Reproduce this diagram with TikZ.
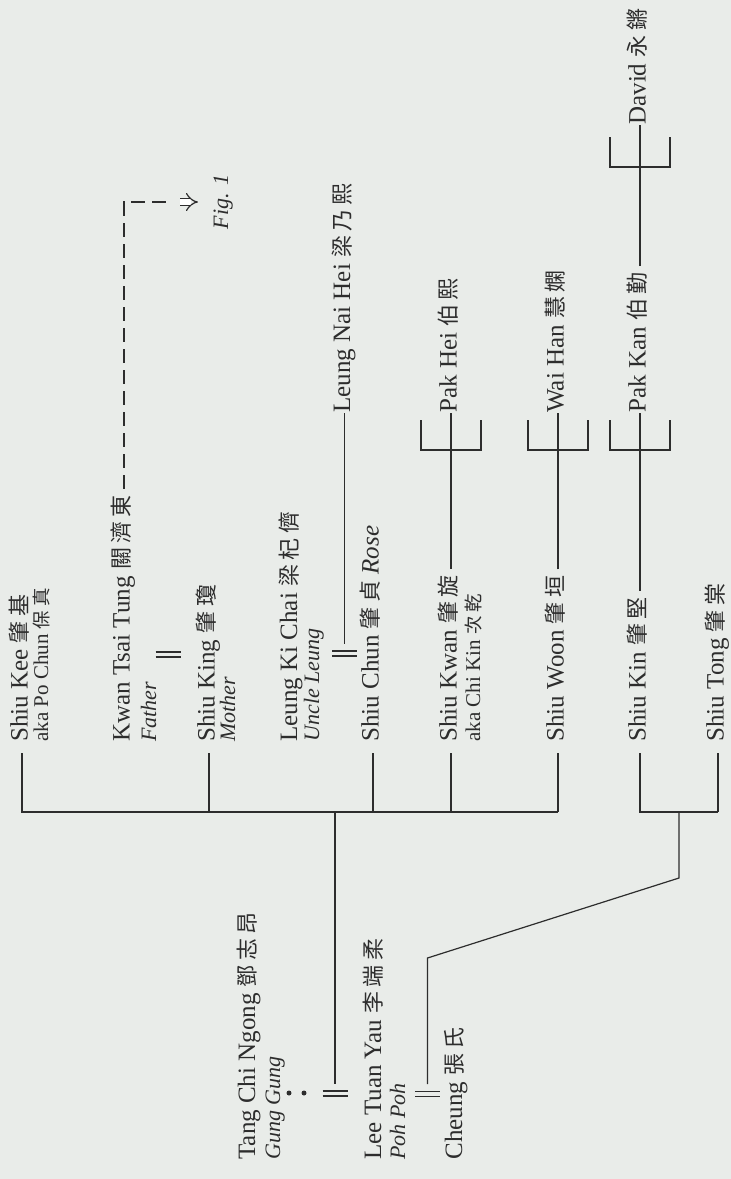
\documentclass[tikz,border=0pt]{standalone}
\usepackage{fontspec}
\setmainfont{Liberation Serif}
\newfontfamily\cjk[Scale=0.88, LetterSpace=20]{Noto Sans CJK TC}
\usepackage{tikz}
\usetikzlibrary{arrows.meta}
\definecolor{paper}{RGB}{233,236,233}
\definecolor{ink}{RGB}{45,45,45}
\newcommand{\zh}[1]{{\cjk #1}}

\tikzset{
  person/.style={rotate=90, anchor=west, inner sep=0pt, text height=9pt, text depth=3.5pt,
    text=ink, font=\fontsize{12.5}{14}\selectfont},
  aka/.style={rotate=90, anchor=base west, inner sep=0pt, text=ink, font=\fontsize{10.5}{12}\selectfont},
  role/.style={aka, font=\fontsize{11}{12}\selectfont\itshape},
  famline/.style={draw=ink, line width=0.6pt},
  drop/.style={famline, shorten <=5.5pt},
  child/.style={famline, shorten <=3pt},
  wed/.pic={\draw[famline] (-12.5,-2.5) -- (12.5,-2.5) (-12.5,2.5) -- (12.5,2.5);},
  fork/.pic={\draw[famline] (-30,-30) -- (-30,0) -- (30,0) -- (30,-30);},
}

\begin{document}
\begin{tikzpicture}[x=0.5pt, y=-0.5pt]
  \fill[paper] (0,0) rectangle (731,1179);
  \useasboundingbox (0,0) rectangle (731,1179);

  % Parents
  \node[person, anchor=base west] (tang) at (255,1160) {Tang Chi Ngong \zh{鄧志昂}};
  \node[role] (gung) at (280,1160) {Gung Gung};
  \fill[ink] (289,1093) circle (2.5) (304,1093) circle (2.5);
  \coordinate (tangwed) at (335,1093.5);
  \pic at (tangwed) {wed};
  \node[person, anchor=base west] (lee) at (381,1160) {Lee Tuan Yau \zh{李端柔}};
  \node[role] (poh) at (405,1160) {Poh Poh};
  \coordinate (cheungwed) at (427.5,1094);
  \pic at (cheungwed) {wed};
  \node[person, anchor=base west] (cheung) at (462,1160) {Cheung \zh{張氏}};

  % Children
  \node[person] (kee) at (22,742) {Shiu Kee \zh{肇基}};
  \node[aka] (keeaka) at (48,742) {aka Po Chun \zh{保真}};
  \node[person] (father) at (124,742) {Kwan Tsai Tung \zh{關濟東}};
  \node[role] (fathertag) at (156,742) {Father};
  \coordinate (kingwed) at (168,654.5);
  \pic at (kingwed) {wed};
  \node[person] (king) at (209,742) {Shiu King \zh{肇瓊}};
  \node[role] (mothertag) at (235,742) {Mother};
  \node[person, anchor=base west] (kichai) at (297,742) {Leung Ki Chai \zh{梁杞儕}};
  \node[role] (uncletag) at (319,742) {Uncle Leung};
  \coordinate (chunwed) at (344.5,653.5);
  \pic at (chunwed) {wed};
  \node[person] (chun) at (373,742) {Shiu Chun \zh{肇貞} \textit{Rose}};
  \node[person] (kwan) at (451,742) {Shiu Kwan \zh{肇旋}};
  \node[aka] (kwanaka) at (480,742) {aka Chi Kin \zh{次乾}};
  \node[person] (woon) at (558,742) {Shiu Woon \zh{肇垣}};
  \node[person] (kin) at (640,742) {Shiu Kin \zh{肇堅}};
  \node[person] (tong) at (718,742) {Shiu Tong \zh{肇棠}};

  % Grandchildren
  \node[person] (naihei) at (344.5,413) {Leung Nai Hei \zh{梁乃熙}};
  \node[person] (pakhei) at (451,413) {Pak Hei \zh{伯熙}};
  \node[person] (waihan) at (558,413) {Wai Han \zh{慧嫻}};
  \node[person] (pakkan) at (640,413) {Pak Kan \zh{伯勤}};
  \node[person] (david) at (640,125) {David \zh{永鏘}};
  \node[role, anchor=base] (fig) at (228,202) {Fig. 1};

  % Sibling bars
  \coordinate (sibbar) at (0,812);
  \draw[drop] (kee.west) -- (kee.west |- sibbar) -- (woon.west |- sibbar);
  \draw[drop] (woon.west) -- (woon.west |- sibbar);
  \draw[drop] (king.west) -- (king.west |- sibbar);
  \draw[drop] (chun.west) -- (chun.west |- sibbar);
  \draw[drop] (kwan.west) -- (kwan.west |- sibbar);
  \draw[famline, shorten <=5pt] (tangwed) -- (tangwed |- sibbar);

  \draw[drop] (kin.west) -- (kin.west |- sibbar) -- (tong.west |- sibbar);
  \draw[drop] (tong.west) -- (tong.west |- sibbar);
  \coordinate (kintong) at (679,812);
  \draw[famline, shorten <=5pt] (cheungwed) -- ++(0,-136) -- (679,878) -- (kintong);

  % Next generation
  \draw[famline, shorten <=5pt] (chunwed) -- (naihei.west);
  \draw[child] (kwan.east) -- (pakhei.west);
  \pic at (451,450) {fork};
  \draw[child] (woon.east) -- (waihan.west);
  \pic at (558,450) {fork};
  \draw[child] (kin.east) -- (pakkan.west);
  \pic at (640,450) {fork};
  \draw[child] (pakkan.east) -- (david.west);
  \pic at (640,167) {fork};

  % Link to Fig. 1
  \coordinate (figlink) at (170,202);
  \coordinate (figarrow) at (198,202);
  \draw[famline, dash pattern=on 7pt off 3.5pt, shorten <=3pt] (father.east) |- (figlink);
  \draw[famline, line width=0.6pt, double, double distance=2.6pt, -{Implies}] ([xshift=5pt]figlink) -- (figarrow);
\end{tikzpicture}
\end{document}
